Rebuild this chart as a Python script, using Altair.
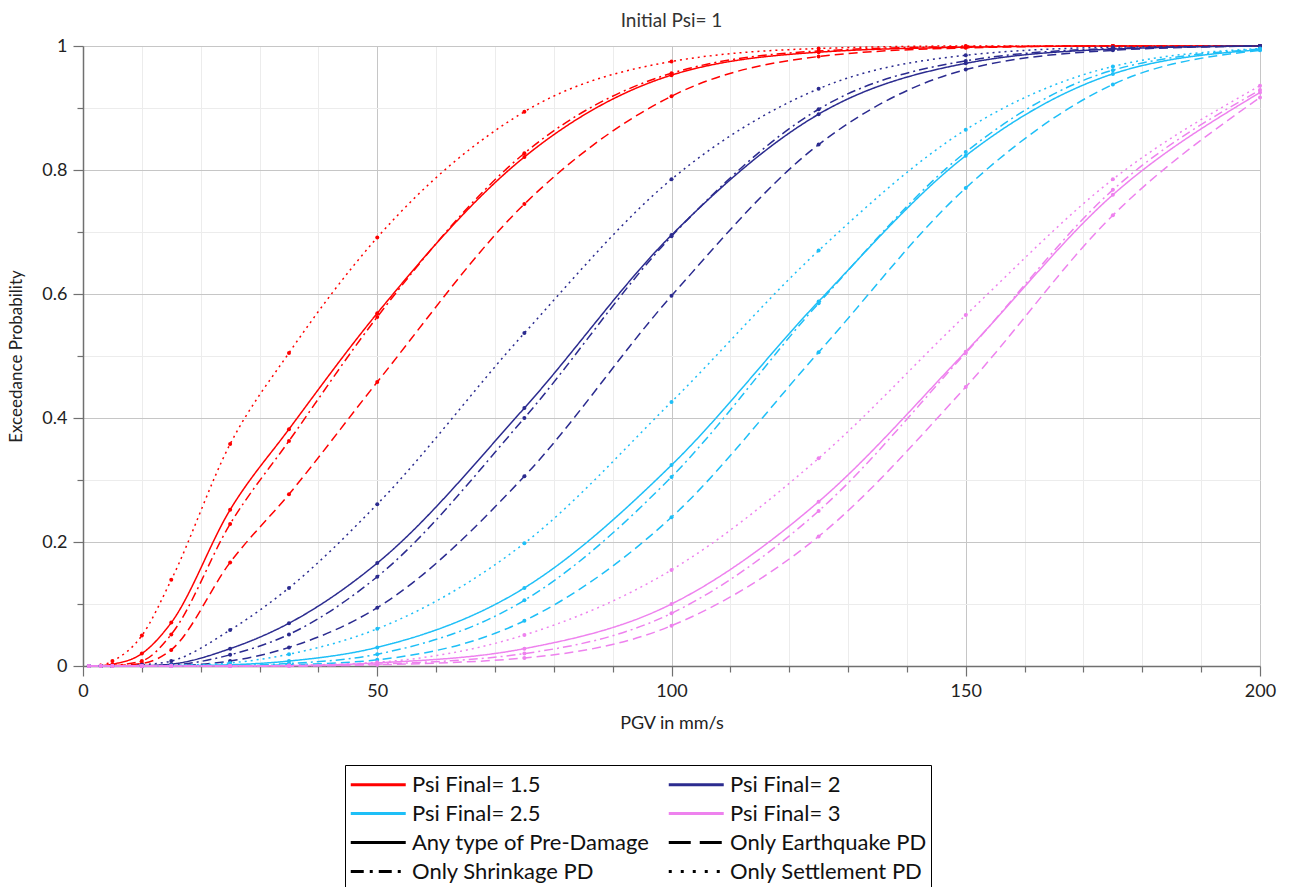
import altair as alt
import pandas as pd

X = [1, 3, 5, 10, 15, 25, 35, 50, 75, 100, 125, 150, 175, 200]

psi_labels = ["Psi Final= 1.5", "Psi Final= 2", "Psi Final= 2.5", "Psi Final= 3"]
type_labels = ["Any type of Pre-Damage", "Only Earthquake PD", "Only Shrinkage PD", "Only Settlement PD"]
colors = ["#FF0000", "#2B2B8F", "#1EBFF7", "#EE82EE"]

# Psi Final = 1.5
red_any = [0, 0.0005, 0.003, 0.020, 0.070, 0.252, 0.382, 0.569, 0.821, 0.953, 0.990, 0.998, 1.0, 1.0]
red_eq = [0, 0, 0.0005, 0.004, 0.026, 0.167, 0.277, 0.458, 0.745, 0.919, 0.983, 0.997, 1.0, 1.0]
red_shr = [0, 0, 0.001, 0.008, 0.051, 0.229, 0.363, 0.563, 0.827, 0.956, 0.992, 0.999, 1.0, 1.0]
red_set = [0, 0.001, 0.008, 0.049, 0.139, 0.358, 0.505, 0.691, 0.894, 0.975, 0.996, 1.0, 1.0, 1.0]
# Psi Final = 2
navy_any = [0, 0, 0, 0.0005, 0.003, 0.028, 0.069, 0.166, 0.416, 0.695, 0.890, 0.972, 0.995, 1.0]
navy_eq = [0, 0, 0, 0, 0.0005, 0.008, 0.030, 0.094, 0.306, 0.597, 0.841, 0.962, 0.993, 1.0]
navy_shr = [0, 0, 0, 0.0002, 0.0015, 0.018, 0.051, 0.144, 0.400, 0.693, 0.898, 0.976, 0.996, 1.0]
navy_set = [0, 0, 0, 0.002, 0.008, 0.058, 0.126, 0.261, 0.537, 0.785, 0.931, 0.985, 0.998, 1.0]
# Psi Final = 2.5
cyan_any = [0, 0, 0, 0, 0.0005, 0.002, 0.008, 0.030, 0.126, 0.324, 0.588, 0.823, 0.955, 0.994]
cyan_eq = [0, 0, 0, 0, 0, 0.0005, 0.002, 0.010, 0.073, 0.240, 0.506, 0.771, 0.938, 0.993]
cyan_shr = [0, 0, 0, 0, 0.0002, 0.001, 0.004, 0.019, 0.106, 0.305, 0.585, 0.829, 0.961, 0.995]
cyan_set = [0, 0, 0, 0, 0.001, 0.005, 0.019, 0.060, 0.198, 0.426, 0.670, 0.865, 0.967, 0.996]
# Psi Final = 3
vio_any = [0, 0, 0, 0, 0, 0, 0.0005, 0.005, 0.028, 0.100, 0.265, 0.507, 0.760, 0.925]
vio_eq = [0, 0, 0, 0, 0, 0, 0, 0.002, 0.013, 0.065, 0.209, 0.450, 0.727, 0.917]
vio_shr = [0, 0, 0, 0, 0, 0, 0.0003, 0.003, 0.020, 0.085, 0.250, 0.505, 0.768, 0.929]
vio_set = [0, 0, 0, 0, 0, 0, 0.001, 0.006, 0.050, 0.155, 0.335, 0.566, 0.785, 0.936]

series = [
    (psi_labels[0], [red_any, red_eq, red_shr, red_set]),
    (psi_labels[1], [navy_any, navy_eq, navy_shr, navy_set]),
    (psi_labels[2], [cyan_any, cyan_eq, cyan_shr, cyan_set]),
    (psi_labels[3], [vio_any, vio_eq, vio_shr, vio_set]),
]

rows = []
order = 0
for psi, lists in series:
    for t, ys in zip(type_labels, lists):
        for x, y in zip(X, ys):
            rows.append({"x": x, "y": y, "psi": psi, "type": t,
                         "series": f"{order:02d} {psi} {t}"})
        order += 1
df = pd.DataFrame(rows)

keys = psi_labels + type_labels
legend_df = pd.DataFrame({"key": keys, "x": [0] * len(keys), "y": [0] * len(keys)})

FONT = "Lato"
xscale = alt.Scale(domain=[0, 200], nice=False, zero=False)
yscale = alt.Scale(domain=[0, 1], nice=False)

xaxis = alt.Axis(
    values=list(range(0, 201, 10)),
    labelExpr="datum.value % 50 === 0 ? datum.label : ''",
    title="PGV in mm/s",
    titleFontSize=18,
    titleFont=FONT,
    titleFontWeight="normal",
    labelFontSize=18,
    grid=True,
    gridColor={"condition": {"test": "datum.value % 50 === 0", "value": "#c6c6c6"}, "value": "#ececec"},
    tickSize={"condition": {"test": "datum.value % 50 === 0", "value": 10}, "value": 6},
    labelPadding=6,
    titlePadding=14,
    labelFlush=False,
)
yvals = [round(i * 0.1, 1) for i in range(11)]
yaxis = alt.Axis(
    values=yvals,
    labelExpr="round(datum.value * 10) % 2 === 0 ? format(datum.value, '~g') : ''",
    title="Exceedance Probability",
    titleFontSize=17,
    titleFont=FONT,
    titleFontWeight="normal",
    labelFontSize=18,
    grid=True,
    gridColor={"condition": {"test": "round(datum.value * 10) % 2 === 0", "value": "#c6c6c6"}, "value": "#ececec"},
    tickSize={"condition": {"test": "round(datum.value * 10) % 2 === 0", "value": 10}, "value": 6},
    labelPadding=6,
    titlePadding=16,
    labelFlush=False,
)

xenc = alt.X("x:Q", scale=xscale, axis=xaxis)
yenc = alt.Y("y:Q", scale=yscale, axis=yaxis)

lines = alt.Chart(df).mark_line(interpolate="monotone", strokeWidth=1.5).encode(
    x=xenc,
    y=yenc,
    color=alt.Color("psi:N", scale=alt.Scale(domain=psi_labels, range=colors), legend=None),
    strokeDash=alt.StrokeDash(
        "type:N",
        scale=alt.Scale(domain=type_labels, range=[[1, 0], [9, 5], [9, 4, 2, 4], [2, 4]]),
        legend=None,
    ),
    detail="series:N",
    order=alt.Order("series:N"),
)

points = alt.Chart(df).mark_circle(size=16, opacity=1).encode(
    x=xenc,
    y=yenc,
    color=alt.Color("psi:N", scale=alt.Scale(domain=psi_labels, range=colors), legend=None),
)

leg = alt.Legend(
    orient="none",
    legendX=262,
    legendY=719,
    columns=2,
    direction="horizontal",
    title=None,
    symbolType="M-1,0H3",
    symbolSize=756,
    symbolStrokeWidth=3,
    labelFontSize=22,
    labelFont=FONT,
    labelColor="#111111",
    labelLimit=400,
    strokeColor="#000000",
    fillColor="#ffffff",
    padding=4,
    rowPadding=2,
    columnPadding=12,
    labelOffset=32,
)

legend_layer = alt.Chart(legend_df).mark_line(strokeWidth=3).encode(
    x=xenc,
    y=yenc,
    color=alt.Color("key:N", scale=alt.Scale(domain=keys, range=colors + ["#000000"] * 4), legend=leg),
    strokeDash=alt.StrokeDash(
        "key:N",
        scale=alt.Scale(domain=keys, range=[[1, 0]] * 5 + [[22, 9], [13, 6, 3, 6], [3, 9]]),
        legend=leg,
    ),
)

chart = alt.layer(lines, points, legend_layer).resolve_scale(
    color="independent", strokeDash="independent"
).properties(
    width=1177,
    height=620,
    autosize=alt.AutoSizeParams(type="none"),
    padding={"left": 83, "top": 46, "right": 30, "bottom": 221},
    title=alt.TitleParams("Initial Psi= 1", fontSize=19, font=FONT, fontWeight="normal",
                          color="#333333", offset=6, anchor="middle"),
).configure_view(stroke=None).configure_axis(
    domainColor="#707070",
    domainWidth=1.5,
    tickColor="#707070",
    tickWidth=1.2,
    labelFont=FONT,
    titleFont=FONT,
    labelFontSize=18,
    titleFontSize=17,
    labelColor="#222222",
    titleColor="#222222",
    titleFontWeight="normal",
    gridWidth=1,
)

chart.save("out.html", embed_options={"renderer": "svg", "actions": False})
